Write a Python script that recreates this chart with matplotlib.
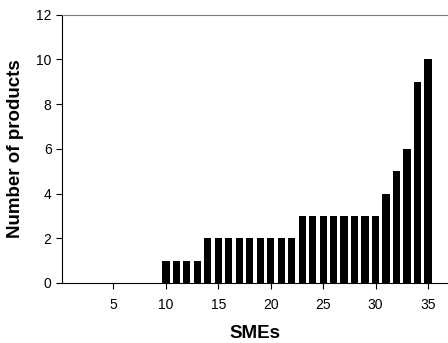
import matplotlib
matplotlib.use("Agg")
import matplotlib.pyplot as plt

plt.rcParams['font.family'] = ['Liberation Sans', 'DejaVu Sans']

smes = list(range(1, 36))
products = [0]*9 + [1, 1, 1, 1] + [2]*9 + [3]*8 + [4, 5, 6, 9, 10]
xticks = [5, 10, 15, 20, 25, 30, 35]
yticks = [0, 2, 4, 6, 8, 10, 12]

fig = plt.figure(figsize=(4.48, 3.43), dpi=100)
ax = fig.add_axes([62/448, 1 - 283/343, (448 - 62)/448, (283 - 14.5)/343])
ax.bar(smes, products, width=0.7, color='black')
ax.set_xlim(0.1, 36.9)
ax.set_ylim(0, 12)
ax.set_xticks(xticks)
ax.set_yticks(yticks)
ax.tick_params(axis='both', labelsize=10, length=4, width=0.8, direction='out')
ax.tick_params(axis='y', pad=3.5)
ax.tick_params(axis='x', pad=6.5)
ax.spines['right'].set_visible(False)
ax.spines['top'].set_color('#777777')
for s in ['left', 'bottom']:
    ax.spines[s].set_linewidth(0.8)
ax.set_xlabel('SMEs', fontsize=13.5, fontweight='bold', labelpad=10)
ax.set_ylabel('Number of products', fontsize=13.5, fontweight='bold', labelpad=9)

fig.savefig('out.png', dpi=100)
